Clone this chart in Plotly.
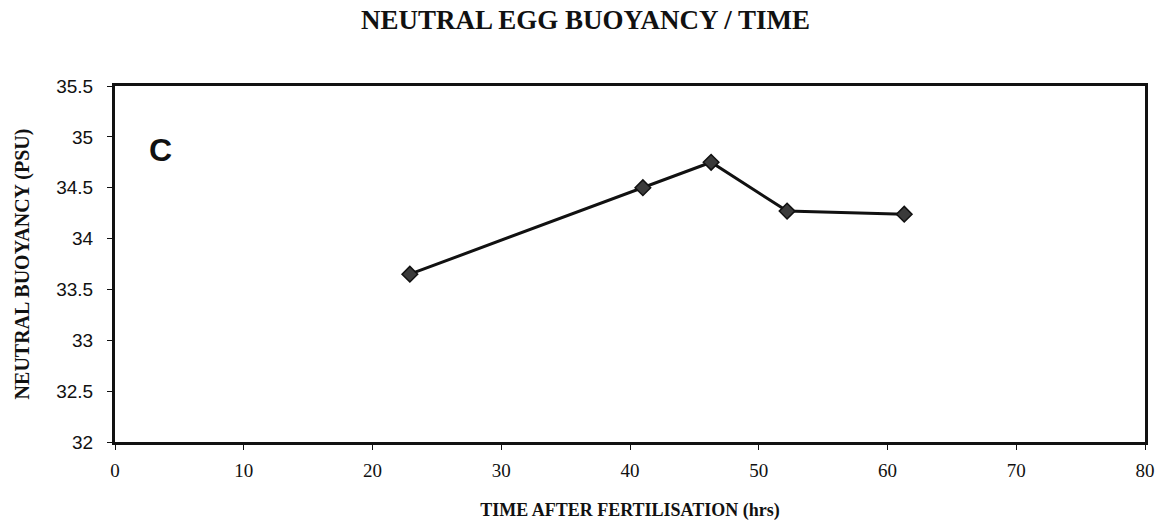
import plotly.graph_objects as go

# Hours after fertilisation and the salinity of neutral egg buoyancy
hours = [22.9, 41.0, 46.3, 52.2, 61.3]
buoyancy_psu = [33.65, 34.50, 34.75, 34.27, 34.24]

x_ticks = [0, 10, 20, 30, 40, 50, 60, 70, 80]
y_ticks = [32, 32.5, 33, 33.5, 34, 34.5, 35, 35.5]
y_tick_text = ["32", "32.5", "33", "33.5", "34", "34.5", "35", "35.5"]

serif = "Liberation Serif, Times New Roman, serif"
sans = "Liberation Sans, Arial, sans-serif"

fig = go.Figure()
fig.add_trace(go.Scatter(
    x=hours,
    y=buoyancy_psu,
    mode="lines+markers",
    line=dict(color="#111111", width=3),
    marker=dict(symbol="diamond", size=12, color="#3a3a3a",
                line=dict(color="#111111", width=1.5)),
    showlegend=False,
))

fig.add_annotation(
    x=3.5, y=34.87, xref="x", yref="y",
    text="<b>C</b>", showarrow=False,
    font=dict(family=sans, size=32, color="#111111"),
)

fig.update_layout(
    width=1164, height=523,
    margin=dict(l=115, r=19, t=86, b=81),
    paper_bgcolor="white", plot_bgcolor="white",
    title=dict(
        text="<b>NEUTRAL EGG BUOYANCY / TIME</b>",
        x=0.503, xanchor="center", y=0.962, yanchor="middle",
        font=dict(family=serif, size=27, color="#111111"),
    ),
)

fig.update_xaxes(
    range=[0, 80], tickvals=x_ticks, automargin=False,
    showgrid=False, zeroline=False,
    showline=True, linecolor="#111111", linewidth=3, mirror=True,
    ticks="outside", ticklen=5, tickcolor="#111111", tickwidth=1,
    ticklabelstandoff=4,
    tickfont=dict(family=serif, size=19, color="#111111"),
    title=dict(text="<b>TIME AFTER FERTILISATION (hrs)</b>",
               font=dict(family=serif, size=18, color="#111111"), standoff=24),
)
fig.update_yaxes(
    range=[32, 35.5], tickvals=y_ticks, ticktext=y_tick_text, automargin=False,
    showgrid=False, zeroline=False,
    showline=True, linecolor="#111111", linewidth=3, mirror=True,
    ticks="outside", ticklen=5, tickcolor="#111111", tickwidth=1,
    ticklabelstandoff=10,
    tickfont=dict(family=sans, size=19, color="#111111"),
    title=dict(text="<b>NEUTRAL BUOYANCY (PSU)</b>",
               font=dict(family=serif, size=20, color="#111111"), standoff=22),
)

fig.write_html("out.html")
